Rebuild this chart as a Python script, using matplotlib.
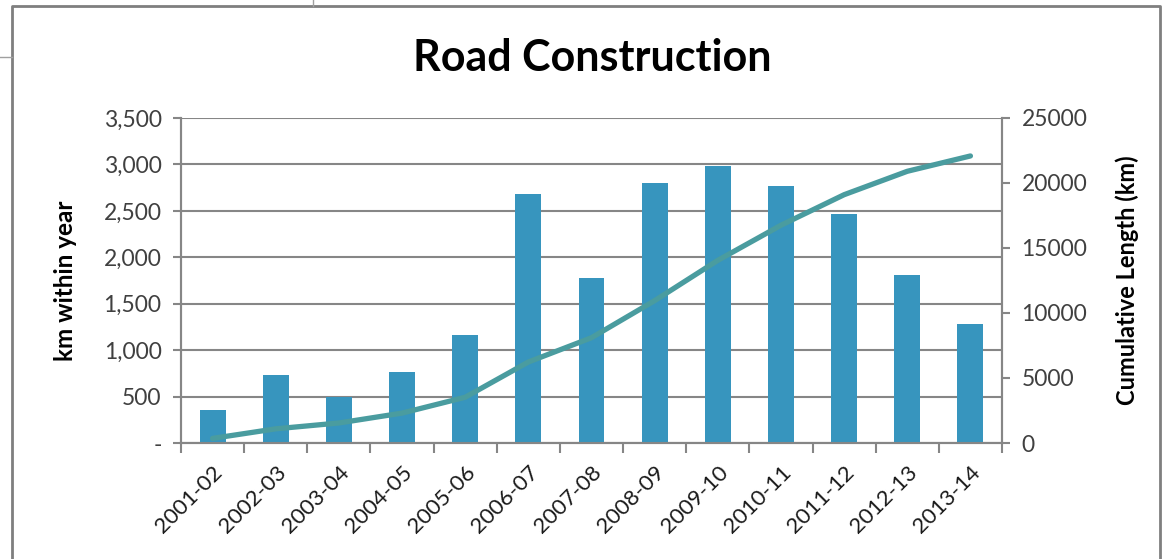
import matplotlib as mpl
mpl.use("Agg")
import matplotlib.pyplot as plt
from matplotlib.lines import Line2D
from matplotlib.ticker import FuncFormatter, MultipleLocator
import numpy as np

years = ["2001-02", "2002-03", "2003-04", "2004-05", "2005-06", "2006-07", "2007-08",
         "2008-09", "2009-10", "2010-11", "2011-12", "2012-13", "2013-14"]
km_within_year = [355, 730, 493, 761, 1163, 2680, 1775, 2798, 2985, 2769, 2467, 1806, 1277]
cumulative_km = [355, 1090, 1540, 2300, 3520, 6230, 8100, 10950, 14050, 16750, 19100, 20900, 22080]

BAR_COLOR = "#3795be"
LINE_COLOR = "#4a9c9f"
GRID = "#868686"

plt.rcParams["font.family"] = ["Lato", "DejaVu Sans"]

W, H = 1173, 559
fig = plt.figure(figsize=(W / 100, H / 100), dpi=100)
ax = fig.add_axes([181 / W, 1 - 443 / H, (1002 - 181) / W, (443 - 118) / H])
ax2 = ax.twinx()

x = np.arange(len(years))
ax.bar(x, km_within_year, width=0.41, color=BAR_COLOR, zorder=3)
ax2.plot(x, cumulative_km, color=LINE_COLOR, lw=3.8, solid_capstyle="round", zorder=4)

ax.set_xlim(-0.5, len(years) - 0.5)
ax.set_ylim(0, 3500)
ax2.set_ylim(0, 25000)
ax.yaxis.set_major_locator(MultipleLocator(500))
ax2.yaxis.set_major_locator(MultipleLocator(5000))
ax.yaxis.set_major_formatter(FuncFormatter(lambda v, p: "-" if v == 0 else f"{v:,.0f}"))

ax.grid(axis="y", color=GRID, lw=1.5, zorder=0)
ax.set_axisbelow(True)

# category boundaries carry the tick marks, centres carry the labels
ax.set_xticks(np.arange(-0.5, len(years), 1.0))
ax.set_xticklabels([])
ax.set_xticks(x, minor=True)
ax.set_xticklabels(years, minor=True, rotation=45, ha="right", rotation_mode="anchor",
                   fontsize=16, color="#1a1a1a")
ax.tick_params(axis="x", which="major", length=7, width=1.5, color=GRID, direction="out")
ax.tick_params(axis="x", which="minor", length=0, pad=14)
ax.tick_params(axis="y", length=6, width=1.5, color=GRID, labelsize=16.5, labelcolor="#404040", pad=8)
ax2.tick_params(axis="y", length=6, width=1.5, color=GRID, labelsize=16.5, labelcolor="#404040", pad=8)

for a in (ax, ax2):
    a.spines["top"].set_visible(False)
    for side in ("left", "right", "bottom"):
        a.spines[side].set_color(GRID)
        a.spines[side].set_linewidth(1.5)

ax.set_ylabel("km within year", fontsize=17.5, fontweight="bold", labelpad=19)
ax2.set_ylabel("Cumulative Length (km)", fontsize=17, fontweight="bold", labelpad=20)

fig.text(592 / W, 1 - 58 / H, "Road Construction", fontsize=31, fontweight="bold",
         ha="center", va="center")

# chart frame and the spreadsheet cell lines around it
border = "#7f7f7f"
fig.add_artist(Line2D([12 / W, 12 / W, 1160 / W, 1160 / W], [0, 1 - 6 / H, 1 - 6 / H, 0],
                      transform=fig.transFigure, color=border, lw=2))
fig.add_artist(Line2D([0, 12 / W], [1 - 57 / H, 1 - 57 / H], transform=fig.transFigure,
                      color="#a0a0a0", lw=1))
fig.add_artist(Line2D([313 / W, 313 / W], [1 - 6 / H, 1], transform=fig.transFigure,
                      color="#a0a0a0", lw=1))

fig.savefig("out.png", dpi=100)
